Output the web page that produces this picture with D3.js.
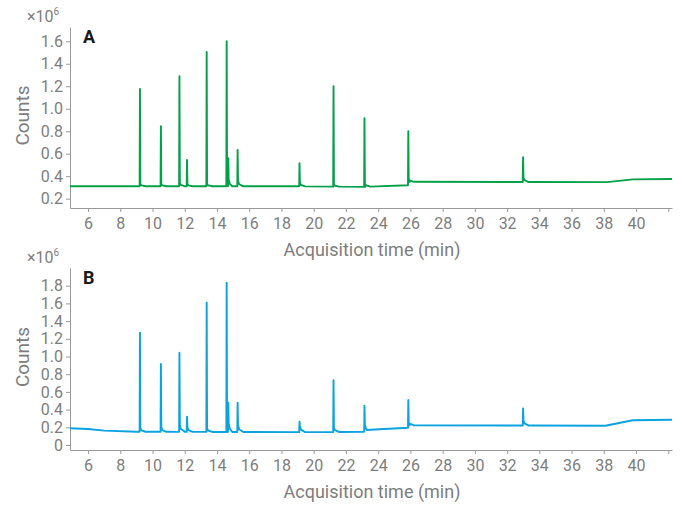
<!DOCTYPE html>
<html>
<head>
<meta charset="utf-8">
<script src="https://cdn.jsdelivr.net/npm/d3@7"></script>
<style>
  body { margin: 0; background: #fff; }
  text { font-family: Roboto, "Noto Sans", sans-serif; }
</style>
</head>
<body>
<div id="chart"></div>
<script>
// x ticks (min)
var xTicks = [6, 8, 10, 12, 14, 16, 18, 20, 22, 24, 26, 28, 30, 32, 34, 36, 38, 40, 42]
// y ticks (x10^6 counts)
var yTicksA = [0.2, 0.4, 0.6, 0.8, 1.0, 1.2, 1.4, 1.6]
var yTicksB = [0, 0.2, 0.4, 0.6, 0.8, 1.0, 1.2, 1.4, 1.6, 1.8]

// baseline anchors [time, counts]
var baselineA = [[4.88, 0.31], [19.0, 0.31], [23.2, 0.305], [25.85, 0.32], [25.95, 0.35],
  [38.2, 0.347], [39.8, 0.372], [42.23, 0.375]]
var baselineB = [[4.88, 0.19], [6.0, 0.18], [7.0, 0.162], [9.0, 0.15], [19.0, 0.145],
  [23.1, 0.148], [23.3, 0.17], [25.85, 0.195], [25.95, 0.222], [38.1, 0.218],
  [39.8, 0.28], [42.23, 0.285]]

// peaks: retention time, apex, tail above baseline
var peakTimes = [9.22, 10.52, 11.67, 12.14, 13.36, 14.6, 14.7, 15.28, 19.12, 21.23, 23.15, 25.87, 32.99]
var peakA = [1.175, 0.844, 1.29, 0.544, 1.504, 1.60, 0.56, 0.633, 0.515, 1.20, 0.915, 0.80, 0.568]
var tailA = [0.02, 0.02, 0.03, 0.02, 0.02, 0.05, 0.06, 0.05, 0.03, 0.02, 0.04, 0.03, 0.04]
var peakB = [1.27, 0.915, 1.043, 0.32, 1.61, 1.834, 0.478, 0.478, 0.263, 0.731, 0.444, 0.508, 0.414]
var tailB = [0.04, 0.05, 0.08, 0.05, 0.04, 0.1, 0.1, 0.08, 0.07, 0.05, 0.07, 0.05, 0.06]

var width = 682, height = 505
var svg = d3.select("#chart")
  .append("svg")
    .attr("width", width)
    .attr("height", height)

var x = d3.scaleLinear()
  .domain([4.88, 42.23])
  .range([70, 672])

// build one trace: baseline + spikes
function buildTrace(baseline, peaks, tails) {
  var base = d3.scaleLinear()
    .domain(baseline.map(function(d) { return d[0] }))
    .range(baseline.map(function(d) { return d[1] }))
  var pts = baseline.slice()
  peakTimes.forEach(function(t, i) {
    pts.push([t - 0.02, base(t - 0.02)])
    pts.push([t, peaks[i]])
    pts.push([t + 0.025, base(t + 0.025) + tails[i]])
    pts.push([t + 0.09, base(t + 0.09) + tails[i] * 0.4])
    pts.push([t + 0.35, base(t + 0.35)])
  })
  pts.sort(function(a, b) { return a[0] - b[0] })
  return pts
}

function panel(opts) {
  var y = d3.scaleLinear()
    .domain(opts.yDomain)
    .range([opts.bottom, opts.top])
  var g = svg.append("g")

  // x axis
  var xa = g.append("g")
    .attr("transform", "translate(0," + opts.bottom + ")")
    .call(d3.axisBottom(x)
      .tickValues(xTicks)
      .tickFormat(function(d) { return d == 42 ? "" : d })
      .tickSizeInner(4)
      .tickSizeOuter(0)
      .tickPadding(6))
  // y axis
  var ya = g.append("g")
    .attr("transform", "translate(70,0)")
    .call(d3.axisLeft(y)
      .tickValues(opts.yTicks)
      .tickFormat(function(d) { return d == 0 ? "0" : d3.format(".1f")(d) })
      .tickSizeInner(4)
      .tickSizeOuter(0)
      .tickPadding(3))
  ;[xa, ya].forEach(function(a) {
    a.select(".domain").attr("stroke", "#9a9a9a")
    a.selectAll(".tick line").attr("stroke", "#9a9a9a")
    a.selectAll(".tick text")
      .attr("fill", "#7d7d7d")
      .style("font-size", "16px")
  })

  // the chromatogram
  var line = d3.line()
    .x(function(d) { return x(d[0]) })
    .y(function(d) { return y(d[1]) })
  g.append("path")
    .datum(opts.data)
    .attr("fill", "none")
    .attr("stroke", opts.color)
    .attr("stroke-width", 1.9)
    .attr("stroke-linejoin", "round")
    .attr("d", line)

  // labels
  g.append("text")
    .attr("x", 372)
    .attr("y", opts.bottom + 48)
    .attr("text-anchor", "middle")
    .attr("fill", "#7d7d7d")
    .style("font-size", "18px")
    .text("Acquisition time (min)")
  g.append("text")
    .attr("transform", "translate(29," + ((opts.top + opts.bottom) / 2 - 2) + ") rotate(-90)")
    .attr("text-anchor", "middle")
    .attr("fill", "#7d7d7d")
    .style("font-size", "19px")
    .text("Counts")
  var mult = g.append("text")
    .attr("x", 27)
    .attr("y", opts.top - 5)
    .attr("fill", "#7d7d7d")
    .style("font-size", "16px")
  mult.append("tspan").text("×10")
  mult.append("tspan")
    .attr("dy", -7)
    .style("font-size", "10px")
    .text("6")
  g.append("text")
    .attr("x", 83)
    .attr("y", opts.top + 16)
    .attr("fill", "#1a1a1a")
    .style("font-size", "18px")
    .style("font-weight", "bold")
    .text(opts.letter)
}

panel({
  top: 27, bottom: 208, yDomain: [0.117, 1.727], yTicks: yTicksA,
  data: buildTrace(baselineA, peakA, tailA), color: "#05a04a", letter: "A"
})
panel({
  top: 268, bottom: 450, yDomain: [-0.0565, 2.0], yTicks: yTicksB,
  data: buildTrace(baselineB, peakB, tailB), color: "#0aa3e0", letter: "B"
})
</script>
</body>
</html>
